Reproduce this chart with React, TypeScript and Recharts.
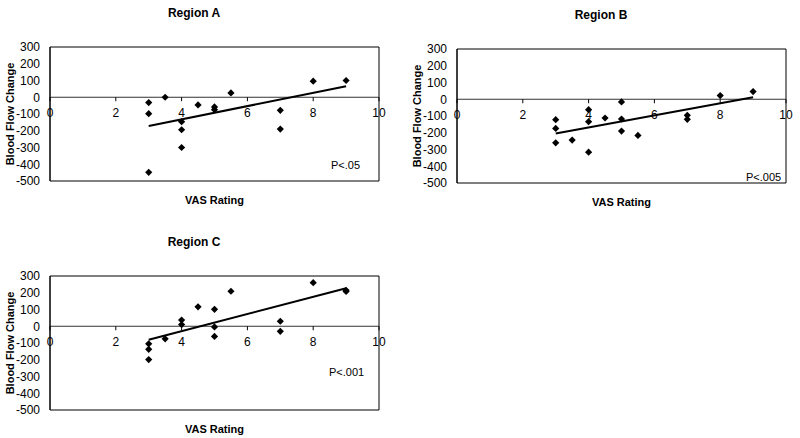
import React from 'react';
import {
  ScatterChart,
  Scatter,
  XAxis,
  YAxis,
  ReferenceLine,
  ReferenceArea,
  Label,
} from 'recharts';

const vasTicks = [0, 2, 4, 6, 8, 10];
const flowTicks = [-500, -400, -300, -200, -100, 0, 100, 200, 300];

const vasA = [3, 3, 3, 3.5, 4, 4, 4, 4.5, 5, 5, 5.5, 7, 7, 8, 9];
const flowA = [-32, -98, -448, 0, -146, -194, -300, -46, -58, -74, 26, -78, -190, 96, 100];
const fitVasA = [3, 9];
const fitFlowA = [-172, 66];

const vasB = [3, 3, 3, 3.5, 4, 4, 4, 4.5, 5, 5, 5, 5.5, 7, 7, 8, 9];
const flowB = [-122, -174, -260, -244, -62, -134, -316, -112, -16, -118, -190, -216, -96, -120, 22, 46];
const fitVasB = [3, 9];
const fitFlowB = [-204, 12];

const vasC = [3, 3, 3, 3.5, 4, 4, 4.5, 5, 5, 5, 5.5, 7, 7, 8, 9, 9];
const flowC = [-105, -138, -199, -75, 37, 10, 116, 101, -4, -61, 209, 30, -30, 260, 215, 208];
const fitVasC = [3, 9];
const fitFlowC = [-81, 227];

const FONT = '"Liberation Sans", Arial, sans-serif';
const W = 400;
const H = 215;
const TOP = 47;
const XH = 34;
const Y_MIN = -500;
const Y_MAX = 300;
const plotH = H - TOP - XH;
const zeroY = TOP + (plotH * Y_MAX) / (Y_MAX - Y_MIN);

const toPoints = (xs: number[], ys: number[]) => xs.map((x, i) => ({ x, y: ys[i] }));

const Diamond = (props: any) => {
  const { cx, cy } = props;
  const r = 3.6;
  return (
    <polygon
      points={`${cx},${cy - r} ${cx + r},${cy} ${cx},${cy + r} ${cx - r},${cy}`}
      fill="#000"
    />
  );
};

const NoDot = () => <g />;

const XTick = (props: any) => {
  const { x, payload } = props;
  return (
    <g>
      <line x1={x} x2={x} y1={zeroY} y2={zeroY + 4} stroke="#000" />
      <text x={x} y={zeroY + 20} textAnchor="middle" fontSize={12} fontFamily={FONT} fill="#000">
        {payload.value}
      </text>
    </g>
  );
};

function Panel({
  left,
  top,
  title,
  pText,
  pLeft,
  pTop,
  vas,
  flow,
  fitVas,
  fitFlow,
}: {
  left: number;
  top: number;
  title: string;
  pText: string;
  pLeft: number;
  pTop: number;
  vas: number[];
  flow: number[];
  fitVas: number[];
  fitFlow: number[];
}) {
  return (
    <div style={{ position: 'absolute', left, top, width: W, height: H }}>
      <div
        style={{
          position: 'absolute',
          left: 94,
          top: 6,
          width: 200,
          textAlign: 'center',
          fontFamily: FONT,
          fontWeight: 'bold',
          fontSize: 12,
          lineHeight: '14px',
        }}
      >
        {title}
      </div>
      <ScatterChart width={W} height={H} margin={{ top: TOP, right: 21, bottom: 0, left: 0 }}>
        <XAxis
          type="number"
          dataKey="x"
          domain={[0, 10]}
          ticks={vasTicks}
          axisLine={false}
          tickLine={false}
          height={XH}
          tick={<XTick />}
        >
          <Label
            value="VAS Rating"
            position="insideBottom"
            offset={11}
            fontSize={11}
            fontWeight="bold"
            fontFamily={FONT}
            fill="#000"
          />
        </XAxis>
        <YAxis
          type="number"
          dataKey="y"
          domain={[Y_MIN, Y_MAX]}
          ticks={flowTicks}
          width={50}
          tickLine={false}
          tickMargin={4}
          axisLine={{ stroke: '#000' }}
          tick={{ fontSize: 12, fontFamily: FONT, fill: '#000' }}
          interval={0}
        >
          <Label
            value="Blood Flow Change"
            angle={-90}
            position="insideLeft"
            offset={10}
            fontSize={11}
            fontWeight="bold"
            fontFamily={FONT}
            fill="#000"
            style={{ textAnchor: 'middle' }}
          />
        </YAxis>
        <ReferenceArea x1={0} x2={10} y1={Y_MIN} y2={Y_MAX} fill="none" stroke="#000" strokeWidth={1} />
        <ReferenceLine y={0} stroke="#333" strokeWidth={1} />
        <Scatter data={toPoints(vas, flow)} shape={<Diamond />} isAnimationActive={false} />
        <Scatter
          data={toPoints(fitVas, fitFlow)}
          line={{ stroke: '#000', strokeWidth: 2 }}
          shape={<NoDot />}
          isAnimationActive={false}
        />
      </ScatterChart>
      <div
        style={{
          position: 'absolute',
          left: pLeft,
          top: pTop,
          fontFamily: FONT,
          fontSize: 11,
          lineHeight: '14px',
        }}
      >
        {pText}
      </div>
    </div>
  );
}

export default function App() {
  return (
    <div style={{ position: 'absolute', left: 0, top: 0, width: 800, height: 438, background: '#fff' }}>
      <Panel
        left={0}
        top={0}
        title="Region A"
        pText="P<.05"
        pLeft={331}
        pTop={158}
        vas={vasA}
        flow={flowA}
        fitVas={fitVasA}
        fitFlow={fitFlowA}
      />
      <Panel
        left={407}
        top={2}
        title="Region B"
        pText="P<.005"
        pLeft={339}
        pTop={168}
        vas={vasB}
        flow={flowB}
        fitVas={fitVasB}
        fitFlow={fitFlowB}
      />
      <Panel
        left={0}
        top={229}
        title="Region C"
        pText="P<.001"
        pLeft={329}
        pTop={136}
        vas={vasC}
        flow={flowC}
        fitVas={fitVasC}
        fitFlow={fitFlowC}
      />
    </div>
  );
}
